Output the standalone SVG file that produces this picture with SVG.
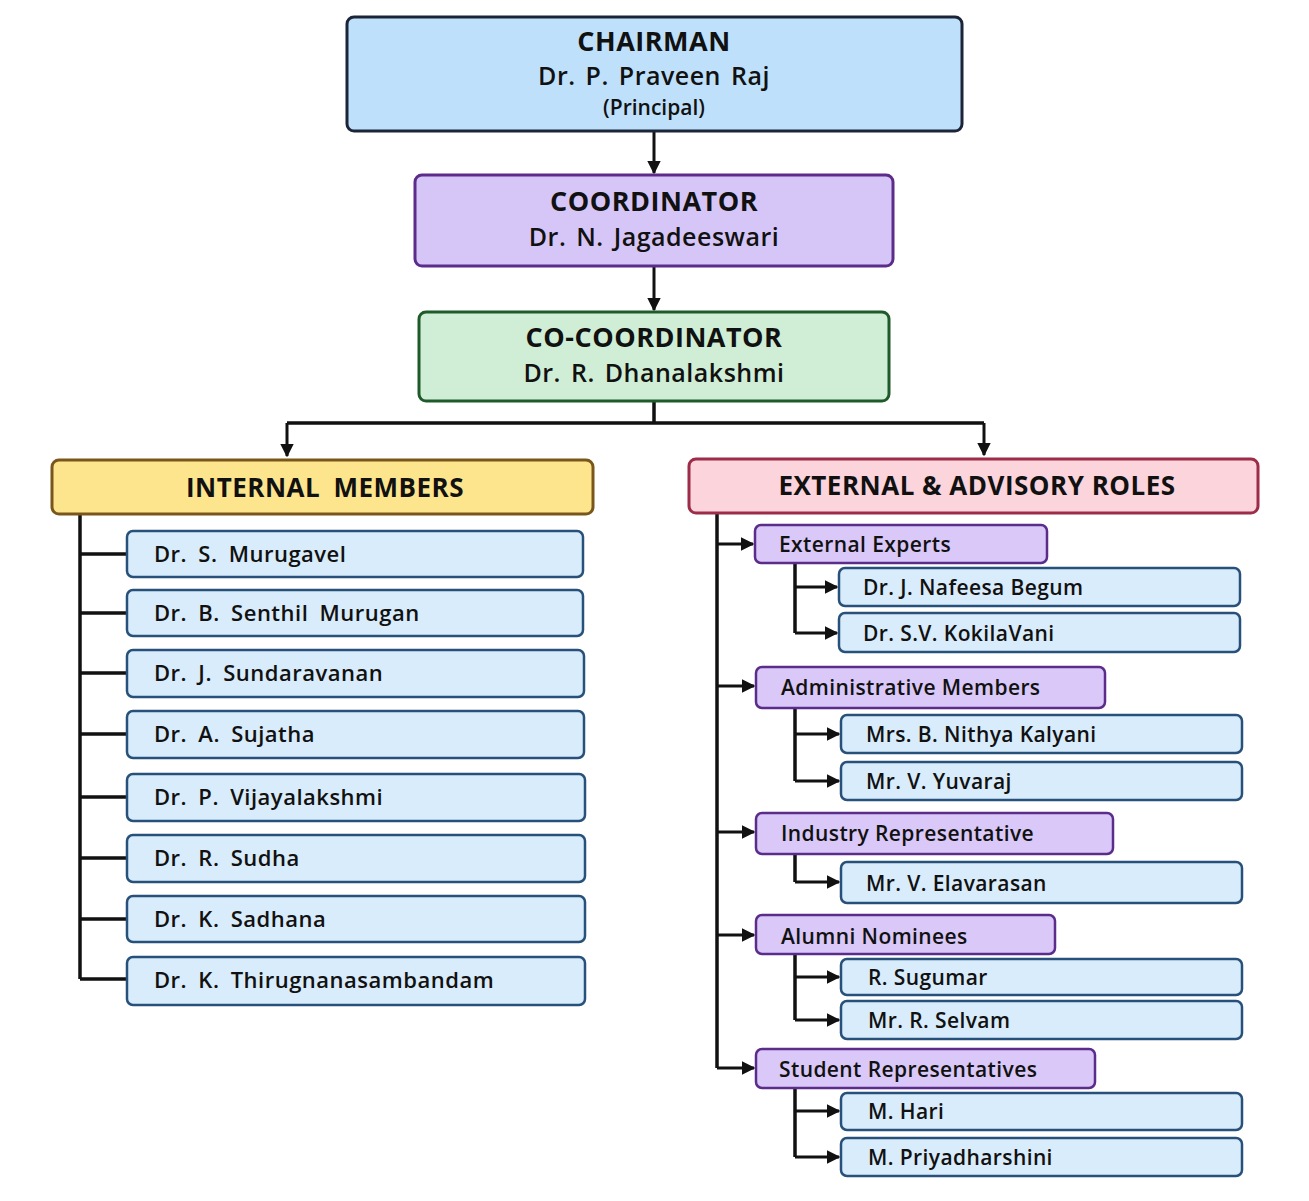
<svg xmlns="http://www.w3.org/2000/svg" width="1309" height="1201" viewBox="0 0 1309 1201">
<defs>
<marker id="ah" viewBox="0 0 10 10" refX="9" refY="5" markerWidth="4.5" markerHeight="4.5" orient="auto"><path d="M0,0 L10,5 L0,10 z" fill="#111"/></marker>
<style>
text{font-family:"Open Sans","Liberation Sans",sans-serif;font-weight:bold;fill:#111}
.b{stroke:#1c2438;stroke-width:3}
.blue{fill:#bfe0fb}.pur{fill:#d6c6f8;stroke:#5b2c8a}.grn{fill:#cfeed5;stroke:#1f5a2a}
.yel{fill:#fde58e;stroke:#7a561a}.pink{fill:#fbd4dc;stroke:#9c2c48}
.mem{fill:#d9ecfb;stroke:#27517a;stroke-width:2.5}
.cat{fill:#d9c8f8;stroke:#5b2c8a;stroke-width:2.5}
.ln{stroke:#111;stroke-width:3.5;fill:none}
.ar{stroke:#111;stroke-width:3;fill:none;marker-end:url(#ah)}
.t1{font-size:27px;letter-spacing:0.5px}.t2{font-size:25px;font-weight:600;letter-spacing:0.5px;word-spacing:3px}.t3{font-size:21px;font-weight:600}
.m{font-size:22px;font-weight:600;letter-spacing:0.5px;word-spacing:5px}.s{font-size:21px;font-weight:600;letter-spacing:0.4px}
</style>
</defs>
<rect width="1309" height="1201" fill="#fff"/>
<g id="connectors">
<path class="ar" d="M654,131 V173"/>
<path class="ar" d="M654,266 V310"/>
<path class="ln" d="M654,401 V423 M287,423 H984"/>
<path class="ar" d="M287,423 V456"/>
<path class="ar" d="M984,423 V455"/>
<path class="ln" d="M80,514 V979 M80,554 H127 M80,613 H127 M80,673 H127 M80,734 H127 M80,797 H127 M80,858 H127 M80,919 H127 M80,979 H127"/>
<path class="ln" d="M717,513 V1068"/>
<path class="ar" d="M717,544 H753"/>
<path class="ar" d="M717,686 H754"/>
<path class="ar" d="M717,832 H754"/>
<path class="ar" d="M717,935 H754"/>
<path class="ar" d="M717,1068 H754"/>
<path class="ln" d="M795,563 V633"/><path class="ar" d="M795,587 H837"/><path class="ar" d="M795,633 H837"/>
<path class="ln" d="M795,708 V781"/><path class="ar" d="M795,734 H839"/><path class="ar" d="M795,781 H839"/>
<path class="ln" d="M795,854 V882"/><path class="ar" d="M795,882 H839"/>
<path class="ln" d="M795,954 V1020"/><path class="ar" d="M795,977 H839"/><path class="ar" d="M795,1020 H839"/>
<path class="ln" d="M795,1088 V1157"/><path class="ar" d="M795,1111 H839"/><path class="ar" d="M795,1157 H839"/>
</g>
<g id="chairman"><rect class="b blue" x="347" y="17" width="615" height="114" rx="7"/>
<text class="t1" x="654" y="51" text-anchor="middle">CHAIRMAN</text>
<text class="t2" x="654" y="85" text-anchor="middle">Dr. P. Praveen Raj</text>
<text class="t3" x="654" y="115" text-anchor="middle">(Principal)</text></g>
<g id="coordinator"><rect class="pur" stroke-width="3" x="415" y="175" width="478" height="91" rx="7"/>
<text class="t1" x="654" y="211" text-anchor="middle">COORDINATOR</text>
<text class="t2" x="654" y="246" text-anchor="middle">Dr. N. Jagadeeswari</text></g>
<g id="cocoordinator"><rect class="grn" stroke-width="3" x="419" y="312" width="470" height="89" rx="7"/>
<text class="t1" x="654" y="347" text-anchor="middle">CO-COORDINATOR</text>
<text class="t2" x="654" y="382" text-anchor="middle">Dr. R. Dhanalakshmi</text></g>
<g id="internal"><rect class="yel" stroke-width="3" x="52" y="460" width="541" height="54" rx="7"/>
<text class="t1" x="325" y="497" text-anchor="middle" style="font-size:26px;word-spacing:6px">INTERNAL MEMBERS</text></g>
<g id="external"><rect class="pink" stroke-width="3" x="689" y="459" width="569" height="54" rx="7"/>
<text class="t1" x="977" y="495" text-anchor="middle" style="font-size:26px">EXTERNAL &amp; ADVISORY ROLES</text></g>
<g id="m1"><rect class="mem" x="127" y="531" width="456" height="46" rx="6"/><text class="m" x="154" y="562">Dr. S. Murugavel</text></g>
<g id="m2"><rect class="mem" x="127" y="590" width="456" height="46" rx="6"/><text class="m" x="154" y="621">Dr. B. Senthil Murugan</text></g>
<g id="m3"><rect class="mem" x="127" y="650" width="457" height="47" rx="6"/><text class="m" x="154" y="681">Dr. J. Sundaravanan</text></g>
<g id="m4"><rect class="mem" x="127" y="711" width="457" height="47" rx="6"/><text class="m" x="154" y="742">Dr. A. Sujatha</text></g>
<g id="m5"><rect class="mem" x="127" y="774" width="458" height="47" rx="6"/><text class="m" x="154" y="805">Dr. P. Vijayalakshmi</text></g>
<g id="m6"><rect class="mem" x="127" y="835" width="458" height="47" rx="6"/><text class="m" x="154" y="866">Dr. R. Sudha</text></g>
<g id="m7"><rect class="mem" x="127" y="896" width="458" height="46" rx="6"/><text class="m" x="154" y="927">Dr. K. Sadhana</text></g>
<g id="m8"><rect class="mem" x="127" y="957" width="458" height="48" rx="6"/><text class="m" x="154" y="988">Dr. K. Thirugnanasambandam</text></g>
<g id="c1"><rect class="cat" x="755" y="525" width="292" height="38" rx="6"/><text class="s" x="779" y="552">External  Experts</text></g>
<g id="c2"><rect class="cat" x="756" y="667" width="349" height="41" rx="6"/><text class="s" x="781" y="695">Administrative  Members</text></g>
<g id="c3"><rect class="cat" x="756" y="813" width="357" height="41" rx="6"/><text class="s" x="781" y="841">Industry  Representative</text></g>
<g id="c4"><rect class="cat" x="756" y="915" width="299" height="39" rx="6"/><text class="s" x="781" y="944">Alumni  Nominees</text></g>
<g id="c5"><rect class="cat" x="756" y="1049" width="339" height="39" rx="6"/><text class="s" x="779" y="1077">Student  Representatives</text></g>
<g id="e1"><rect class="mem" x="839" y="568" width="401" height="38" rx="6"/><text class="s" x="863" y="595">Dr.  J.  Nafeesa  Begum</text></g>
<g id="e2"><rect class="mem" x="839" y="613" width="401" height="39" rx="6"/><text class="s" x="863" y="641">Dr.  S.V.  KokilaVani</text></g>
<g id="a1"><rect class="mem" x="841" y="715" width="401" height="38" rx="6"/><text class="s" x="866" y="742">Mrs.  B.  Nithya  Kalyani</text></g>
<g id="a2"><rect class="mem" x="841" y="762" width="401" height="38" rx="6"/><text class="s" x="866" y="789">Mr.  V.  Yuvaraj</text></g>
<g id="i1"><rect class="mem" x="841" y="862" width="401" height="41" rx="6"/><text class="s" x="866" y="891">Mr.  V.  Elavarasan</text></g>
<g id="al1"><rect class="mem" x="841" y="959" width="401" height="36" rx="6"/><text class="s" x="868" y="985">R.  Sugumar</text></g>
<g id="al2"><rect class="mem" x="841" y="1001" width="401" height="38" rx="6"/><text class="s" x="868" y="1028">Mr.  R.  Selvam</text></g>
<g id="s1"><rect class="mem" x="841" y="1093" width="401" height="37" rx="6"/><text class="s" x="868" y="1119">M.  Hari</text></g>
<g id="s2"><rect class="mem" x="841" y="1138" width="401" height="38" rx="6"/><text class="s" x="868" y="1165">M.  Priyadharshini</text></g>
</svg>
